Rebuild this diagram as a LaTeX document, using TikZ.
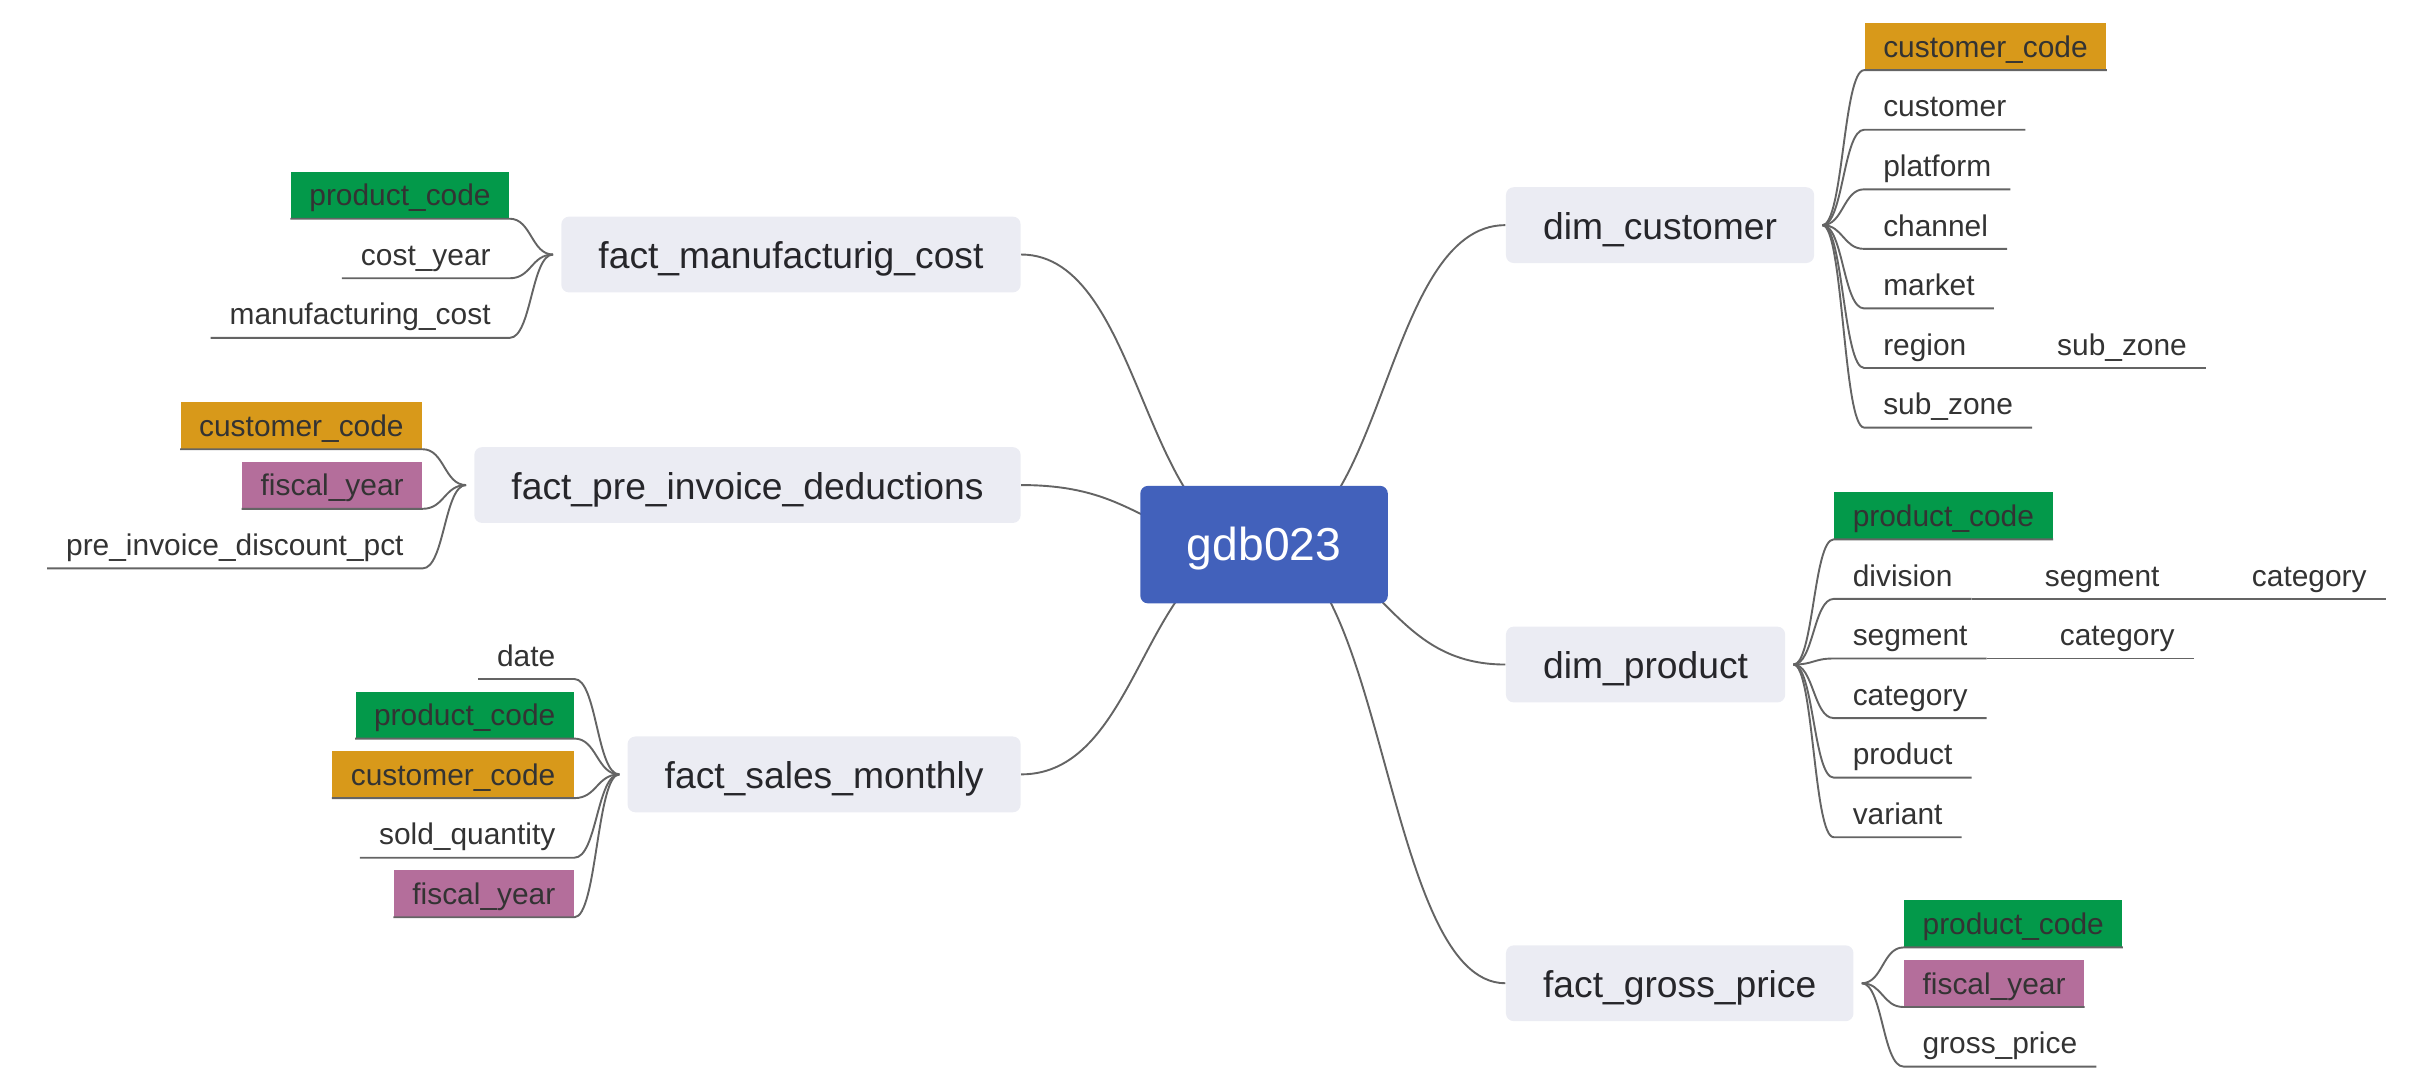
\documentclass[tikz,border=0pt]{standalone}
\usepackage{fontspec}
\setmainfont{Liberation Sans}
\usepackage{xcolor}
\usetikzlibrary{positioning,backgrounds,calc}

\definecolor{rootblue}{RGB}{66,97,187}
\definecolor{tablegray}{RGB}{235,236,243}
\definecolor{linkgray}{RGB}{100,100,100}
\definecolor{textgray}{RGB}{51,51,51}
\definecolor{titlegray}{RGB}{38,38,42}
\definecolor{keycust}{RGB}{216,153,26}
\definecolor{keyprod}{RGB}{3,153,74}
\definecolor{keyyear}{RGB}{180,110,155}

\tikzset{
	rootbox/.style={fill=rootblue, text=white, rounded corners=0.1cm, minimum width=3.2cm, minimum height=1.52cm, text height=13pt, text depth=1pt, font=\fontsize{17}{20}\selectfont},
	tablebox/.style={fill=tablegray, text=titlegray, rounded corners=0.1cm, inner xsep=0.48cm, minimum height=0.98cm, text height=11pt, text depth=0.5pt, font=\fontsize{13.7}{16}\selectfont},
	field/.style={text=textgray, inner xsep=0.24cm, inner ysep=0pt, minimum height=0.6cm, text height=9.2pt, text depth=1.2pt, font=\fontsize{11}{13}\selectfont},
	custkey/.style={field, fill=keycust},
	prodkey/.style={field, fill=keyprod},
	yearkey/.style={field, fill=keyyear},
	linkline/.style={draw=linkgray, line width=0.7pt, to path={.. controls ($(\tikztostart)!.5!(\tikztostart -| \tikztotarget)$) and ($(\tikztotarget)!.5!(\tikztotarget -| \tikztostart)$) .. (\tikztotarget)}}
}

\begin{document}
\begin{tikzpicture}[x=0.02cm, y=-0.02cm]
	\useasboundingbox (0,0) rectangle (1568,704);
	% root and tables
	\node [rootbox] (db) at (817,352) {gdb023};
	\node [tablebox, anchor=east] (fmc)  at (660,164.5) {fact\_manufacturig\_cost};
	\node [tablebox, anchor=east] (fpid) at (660,313.5) {fact\_pre\_invoice\_deductions};
	\node [tablebox, anchor=east] (fsm)  at (660,500.5) {fact\_sales\_monthly};
	\node [tablebox, anchor=west] (dcu)  at (973,145.5) {dim\_customer};
	\node [tablebox, anchor=west] (dpr)  at (973,429.5) {dim\_product};
	\node [tablebox, anchor=west] (fgp)  at (973,635.5) {fact\_gross\_price};
	\begin{scope}[on background layer]
		\draw [linkline] (db.center) to (fmc.east);
		\draw [linkline] (db.center) to (fpid.east);
		\draw [linkline] (db.center) to (fsm.east);
		\draw [linkline] (db.center) to (dcu.west);
		\draw [linkline] (db.center) to (dpr.west);
		\draw [linkline] (db.center) to (fgp.west);
	\end{scope}
	% dim_customer
	\node [custkey, anchor=west] (c1) at ($(dcu.east)+(32,-115.5)$) {customer\_code};
	\node [field, anchor=west] (c2) at ($(dcu.east)+(32,-77)$) {customer};
	\node [field, anchor=west] (c3) at ($(dcu.east)+(32,-38.5)$) {platform};
	\node [field, anchor=west] (c4) at ($(dcu.east)+(32,0)$) {channel};
	\node [field, anchor=west] (c5) at ($(dcu.east)+(32,38.5)$) {market};
	\node [field, anchor=west] (c6) at ($(dcu.east)+(32,77)$) {region};
	\node [field, anchor=west] (c7) at ($(dcu.east)+(32,115.5)$) {sub\_zone};
	\node [field, anchor=west] (c6a) at ($(c6.east)+(34,0)$) {sub\_zone};
	% dim_product
	\node [prodkey, anchor=west] (p1) at ($(dpr.east)+(31,-96.25)$) {product\_code};
	\node [field, anchor=west] (p2) at ($(dpr.east)+(31,-57.75)$) {division};
	\node [field, anchor=west] (p3) at ($(dpr.east)+(31,-19.25)$) {segment};
	\node [field, anchor=west] (p4) at ($(dpr.east)+(31,19.25)$) {category};
	\node [field, anchor=west] (p5) at ($(dpr.east)+(31,57.75)$) {product};
	\node [field, anchor=west] (p6) at ($(dpr.east)+(31,96.25)$) {variant};
	\node [field, anchor=west] (p2a) at ($(p2.east)+(35,0)$) {segment};
	\node [field, anchor=west] (p2b) at ($(p2a.east)+(35,0)$) {category};
	\node [field, anchor=west] (p3a) at ($(p3.east)+(35,0)$) {category};
	% fact_gross_price
	\node [prodkey, anchor=west] (g1) at ($(fgp.east)+(32,-38.5)$) {product\_code};
	\node [yearkey, anchor=west] (g2) at ($(fgp.east)+(32,0)$) {fiscal\_year};
	\node [field, anchor=west] (g3) at ($(fgp.east)+(32,38.5)$) {gross\_price};
	% fact_manufacturig_cost
	\node [prodkey, anchor=east] (m1) at ($(fmc.west)+(-33,-38.5)$) {product\_code};
	\node [field, anchor=east] (m2) at ($(fmc.west)+(-33,0)$) {cost\_year};
	\node [field, anchor=east] (m3) at ($(fmc.west)+(-33,38.5)$) {manufacturing\_cost};
	% fact_pre_invoice_deductions
	\node [custkey, anchor=east] (d1) at ($(fpid.west)+(-33,-38.5)$) {customer\_code};
	\node [yearkey, anchor=east] (d2) at ($(fpid.west)+(-33,0)$) {fiscal\_year};
	\node [field, anchor=east] (d3) at ($(fpid.west)+(-33,38.5)$) {pre\_invoice\_discount\_pct};
	% fact_sales_monthly
	\node [field, anchor=east] (s1) at ($(fsm.west)+(-34,-77)$) {date};
	\node [prodkey, anchor=east] (s2) at ($(fsm.west)+(-34,-38.5)$) {product\_code};
	\node [custkey, anchor=east] (s3) at ($(fsm.west)+(-34,0)$) {customer\_code};
	\node [field, anchor=east] (s4) at ($(fsm.west)+(-34,38.5)$) {sold\_quantity};
	\node [yearkey, anchor=east] (s5) at ($(fsm.west)+(-34,77)$) {fiscal\_year};
	% branch points
	\coordinate (dcuR) at ($(dcu.east)+(5,0)$);
	\coordinate (dprR) at ($(dpr.east)+(5,0)$);
	\coordinate (fgpR) at ($(fgp.east)+(5,0)$);
	\coordinate (fmcL) at ($(fmc.west)+(-5,0)$);
	\coordinate (fpidL) at ($(fpid.west)+(-5,0)$);
	\coordinate (fsmL) at ($(fsm.west)+(-5,0)$);
	\foreach \f in {c1,c2,c3,c4,c5,c6,c7}
		\draw [linkline] (dcuR) to (\f.south west) -- (\f.south east);
	\foreach \f in {p1,p2,p3,p4,p5,p6}
		\draw [linkline] (dprR) to (\f.south west) -- (\f.south east);
	\foreach \f in {g1,g2,g3}
		\draw [linkline] (fgpR) to (\f.south west) -- (\f.south east);
	\foreach \f in {m1,m2,m3}
		\draw [linkline] (fmcL) to (\f.south east) -- (\f.south west);
	\foreach \f in {d1,d2,d3}
		\draw [linkline] (fpidL) to (\f.south east) -- (\f.south west);
	\foreach \f in {s1,s2,s3,s4,s5}
		\draw [linkline] (fsmL) to (\f.south east) -- (\f.south west);
	\draw [linkline] (c6.south east) -- (c6a.south west) -- (c6a.south east);
	\draw [linkline] (p2.south east) -- (p2a.south west) -- (p2a.south east) -- (p2b.south west) -- (p2b.south east);
	\draw [linkline] (p3.south east) -- (p3a.south west) -- (p3a.south east);
\end{tikzpicture}
\end{document}
